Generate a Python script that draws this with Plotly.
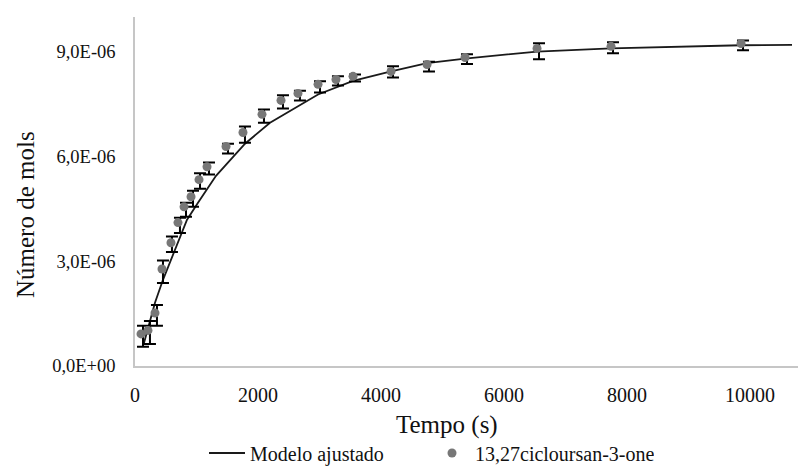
import plotly.graph_objects as go

# Experimental data (time in s, moles)
tempo = [98, 211, 325, 439, 585, 699, 797, 911, 1041, 1171, 1480, 1756, 2065, 2374,
         2650, 2976, 3268, 3545, 4163, 4748, 5366, 6537, 7740, 9854]
mols = [0.92e-6, 1.02e-6, 1.52e-6, 2.78e-6, 3.53e-6, 4.11e-6, 4.56e-6, 4.85e-6, 5.34e-6,
        5.71e-6, 6.29e-6, 6.69e-6, 7.21e-6, 7.61e-6, 7.81e-6, 8.07e-6, 8.21e-6, 8.30e-6,
        8.44e-6, 8.64e-6, 8.84e-6, 9.10e-6, 9.16e-6, 9.24e-6]

# Error bars (centre, half-width), drawn slightly shifted as in the source
err_tempo = [130, 243, 357, 455, 601, 731, 829, 943, 1057, 1203, 1512, 1788, 2097, 2406,
             2682, 3008, 3300, 3577, 4195, 4780, 5398, 6569, 7772, 9886]
err_centro = [0.85e-6, 0.96e-6, 1.45e-6, 2.70e-6, 3.49e-6, 4.03e-6, 4.48e-6, 4.79e-6, 5.30e-6,
              5.66e-6, 6.23e-6, 6.63e-6, 7.16e-6, 7.57e-6, 7.75e-6, 8.00e-6, 8.17e-6, 8.25e-6,
              8.43e-6, 8.58e-6, 8.79e-6, 9.02e-6, 9.12e-6, 9.19e-6]
err_meio = [0.30e-6, 0.33e-6, 0.30e-6, 0.32e-6, 0.22e-6, 0.22e-6, 0.20e-6, 0.23e-6, 0.22e-6,
            0.17e-6, 0.14e-6, 0.23e-6, 0.19e-6, 0.19e-6, 0.14e-6, 0.16e-6, 0.13e-6, 0.10e-6,
            0.16e-6, 0.14e-6, 0.14e-6, 0.23e-6, 0.16e-6, 0.14e-6]

# Fitted model
modelo_t = [146, 325, 455, 650, 846, 1024, 1317, 1789, 2195, 2976, 3545, 4163, 4748,
            5366, 6537, 7740, 9854, 10683]
modelo_y = [0.66e-6, 1.81e-6, 2.47e-6, 3.33e-6, 4.19e-6, 4.68e-6, 5.45e-6, 6.37e-6,
            6.97e-6, 7.78e-6, 8.17e-6, 8.44e-6, 8.68e-6, 8.81e-6, 9.01e-6, 9.10e-6,
            9.19e-6, 9.20e-6]

y_ticks = [0, 3e-6, 6e-6, 9e-6]
y_labels = ["0,0E+00", "3,0E-06", "6,0E-06", "9,0E-06"]
x_ticks = [0, 2000, 4000, 6000, 8000, 10000]
x_labels = ["0", "2000", "4000", "6000", "8000", "10000"]

FONT = "Liberation Serif"

fig = go.Figure()
fig.add_trace(go.Scatter(
    x=modelo_t, y=modelo_y, mode="lines", name="Modelo ajustado",
    line=dict(color="#1a1a1a", width=1.8)))
fig.add_trace(go.Scatter(
    x=err_tempo, y=err_centro, mode="markers", showlegend=False, hoverinfo="skip",
    marker=dict(size=1, color="rgba(0,0,0,0)"),
    error_y=dict(type="data", array=err_meio, visible=True, color="#000000",
                 thickness=2, width=6)))
fig.add_trace(go.Scatter(
    x=tempo, y=mols, mode="markers", name="13,27cicloursan-3-one",
    marker=dict(size=9, color="#777777")))

L, R, T, B = 135, 2, 17, 100
W, H = 800, 466
pw, ph = W - L - R, H - T - B

def px_x(p):
    return (p - L) / pw

def px_y(p):
    return (H - B - p) / ph

fig.update_layout(
    width=W, height=H,
    margin=dict(l=L, r=R, t=T, b=B, autoexpand=False),
    paper_bgcolor="white", plot_bgcolor="white",
    font=dict(family=FONT, color="#111111"),
    showlegend=True,
    legend=dict(orientation="h", xref="container", yref="container",
                x=204 / W, xanchor="left", y=1 - 453 / H, yanchor="middle",
                font=dict(family=FONT, size=20, color="#111111"),
                bgcolor="rgba(0,0,0,0)", itemwidth=36,
                entrywidth=174, entrywidthmode="pixels"),
    xaxis=dict(range=[0, 10780], tickvals=x_ticks, ticktext=x_labels, showgrid=False,
               zeroline=False, showline=True, linecolor="#c6c6c6", linewidth=1.5, ticks="",
               tickfont=dict(family=FONT, size=20, color="#111111"),
               ticklabelstandoff=10, fixedrange=True),
    yaxis=dict(range=[0, 1.0e-5], tickvals=y_ticks, ticktext=y_labels, showgrid=False,
               zeroline=False, showline=True, linecolor="#c6c6c6", linewidth=1.5, ticks="",
               tickfont=dict(family=FONT, size=18.5, color="#111111"),
               ticklabelstandoff=14, fixedrange=True),
    annotations=[
        dict(text="Tempo (s)", xref="paper", yref="paper", x=px_x(446.5), y=px_y(425),
             xanchor="center", yanchor="middle", showarrow=False,
             font=dict(family=FONT, size=25, color="#111111")),
        dict(text="Número de mols", xref="paper", yref="paper", x=px_x(25), y=px_y(215),
             xanchor="center", yanchor="middle", showarrow=False, textangle=-90,
             font=dict(family=FONT, size=25, color="#111111")),
    ],
)

fig.write_html("out.html")
